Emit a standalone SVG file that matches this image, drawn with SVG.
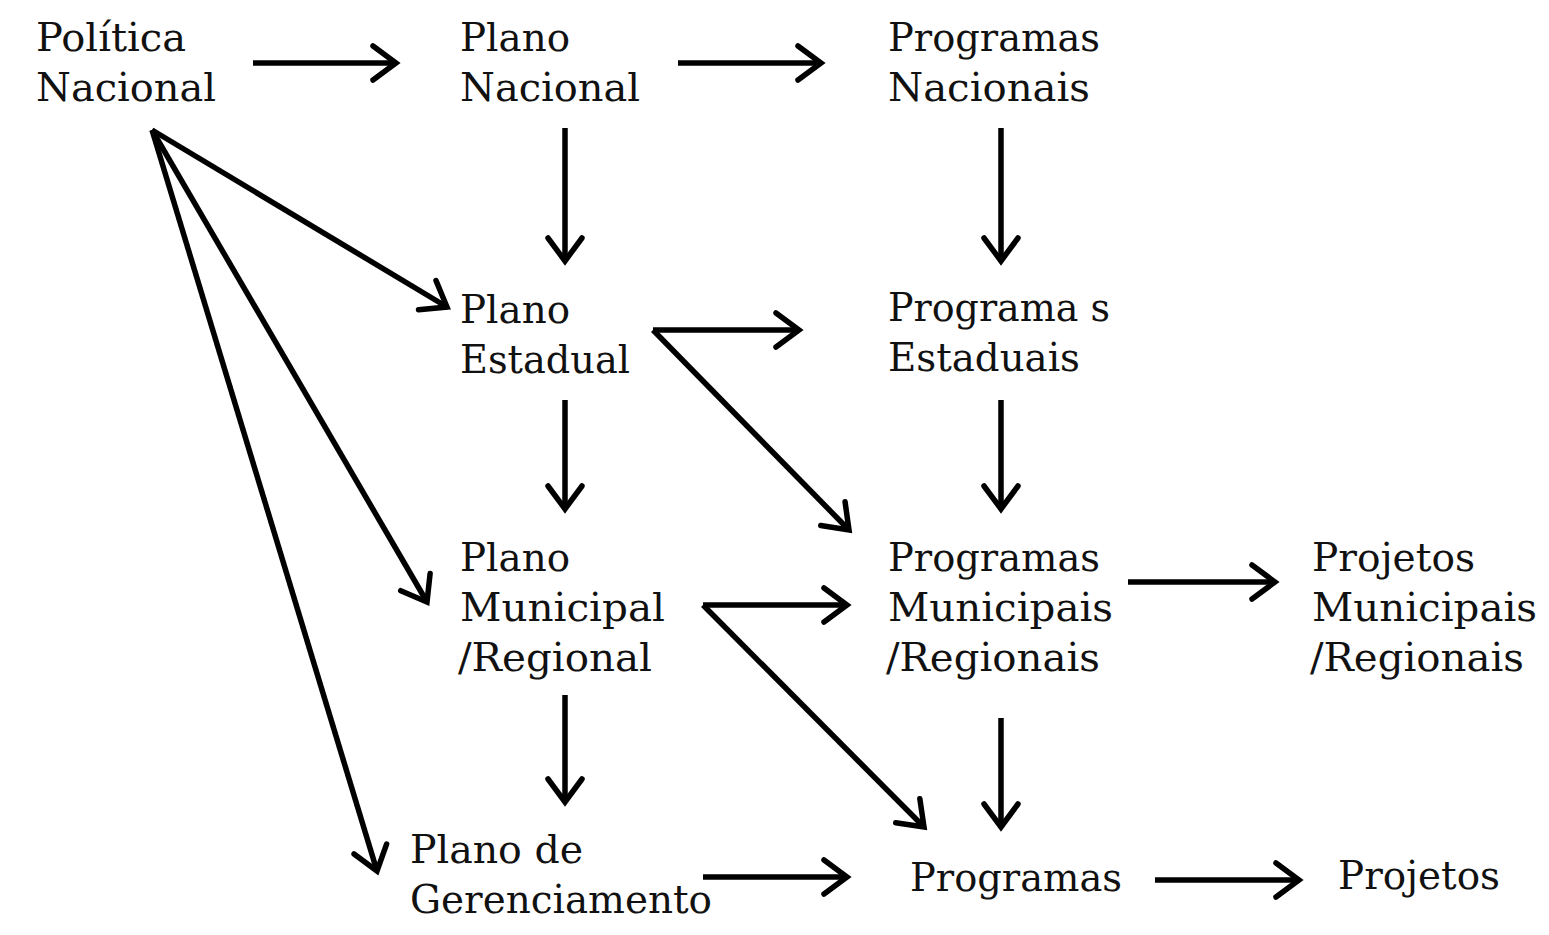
<svg xmlns="http://www.w3.org/2000/svg" width="1549" height="935" viewBox="0 0 1549 935">
<defs>
<marker id="ah" markerUnits="userSpaceOnUse" markerWidth="60" markerHeight="60" viewBox="-40 -30 50 60" refX="0" refY="0" orient="auto">
<path d="M-23,-17 L0,0 L-23,17" fill="none" stroke="#000" stroke-width="5.5" stroke-linecap="round" stroke-linejoin="miter"/>
</marker>
<style>
text{font-family:"DejaVu Serif","Liberation Serif",serif;font-size:40px;fill:#111}
.c line{stroke:#000;stroke-width:5.5;marker-end:url(#ah)}
</style>
</defs>
<rect width="1549" height="935" fill="#fff"/>
<g class="c" id="connectors">
<line x1="253" y1="63" x2="396" y2="63"/>
<line x1="678" y1="63" x2="821" y2="63"/>
<line x1="565" y1="128" x2="565" y2="261"/>
<line x1="1001" y1="128" x2="1001" y2="261"/>
<line x1="152" y1="130" x2="447" y2="307"/>
<line x1="152" y1="130" x2="427" y2="602"/>
<line x1="152" y1="130" x2="377" y2="871"/>
<line x1="653" y1="330" x2="799" y2="330"/>
<line x1="653" y1="330" x2="849" y2="530"/>
<line x1="565" y1="400" x2="565" y2="509"/>
<line x1="1001" y1="400" x2="1001" y2="509"/>
<line x1="703" y1="605" x2="847" y2="605"/>
<line x1="703" y1="605" x2="924" y2="827"/>
<line x1="565" y1="695" x2="565" y2="802"/>
<line x1="1001" y1="718" x2="1001" y2="827"/>
<line x1="1128" y1="582" x2="1275" y2="582"/>
<line x1="703" y1="877" x2="847" y2="877"/>
<line x1="1155" y1="880" x2="1299" y2="880"/>
</g>
<g id="politica-nacional">
<text x="36" y="51" textLength="150" lengthAdjust="spacingAndGlyphs">Política</text>
<text x="36" y="101" textLength="180" lengthAdjust="spacingAndGlyphs">Nacional</text>
</g>
<g id="plano-nacional">
<text x="460" y="51" textLength="110" lengthAdjust="spacingAndGlyphs">Plano</text>
<text x="460" y="101" textLength="180" lengthAdjust="spacingAndGlyphs">Nacional</text>
</g>
<g id="programas-nacionais">
<text x="888" y="51" textLength="212" lengthAdjust="spacingAndGlyphs">Programas</text>
<text x="888" y="101" textLength="202" lengthAdjust="spacingAndGlyphs">Nacionais</text>
</g>
<g id="plano-estadual">
<text x="460" y="323" textLength="110" lengthAdjust="spacingAndGlyphs">Plano</text>
<text x="460" y="373" textLength="170" lengthAdjust="spacingAndGlyphs">Estadual</text>
</g>
<g id="programas-estaduais">
<text x="888" y="321" textLength="222" lengthAdjust="spacingAndGlyphs">Programa s</text>
<text x="888" y="371" textLength="192" lengthAdjust="spacingAndGlyphs">Estaduais</text>
</g>
<g id="plano-municipal">
<text x="460" y="571" textLength="110" lengthAdjust="spacingAndGlyphs">Plano</text>
<text x="460" y="621" textLength="205" lengthAdjust="spacingAndGlyphs">Municipal</text>
<text x="458" y="671" textLength="194" lengthAdjust="spacingAndGlyphs">/Regional</text>
</g>
<g id="programas-municipais">
<text x="888" y="571" textLength="212" lengthAdjust="spacingAndGlyphs">Programas</text>
<text x="888" y="621" textLength="225" lengthAdjust="spacingAndGlyphs">Municipais</text>
<text x="886" y="671" textLength="214" lengthAdjust="spacingAndGlyphs">/Regionais</text>
</g>
<g id="projetos-municipais">
<text x="1312" y="571" textLength="163" lengthAdjust="spacingAndGlyphs">Projetos</text>
<text x="1312" y="621" textLength="225" lengthAdjust="spacingAndGlyphs">Municipais</text>
<text x="1310" y="671" textLength="214" lengthAdjust="spacingAndGlyphs">/Regionais</text>
</g>
<g id="plano-gerenciamento">
<text x="410" y="863" textLength="173" lengthAdjust="spacingAndGlyphs">Plano de</text>
<text x="410" y="913" textLength="302" lengthAdjust="spacingAndGlyphs">Gerenciamento</text>
</g>
<g id="programas">
<text x="910" y="891" textLength="212" lengthAdjust="spacingAndGlyphs">Programas</text>
</g>
<g id="projetos">
<text x="1338" y="889" textLength="162" lengthAdjust="spacingAndGlyphs">Projetos</text>
</g>
</svg>
